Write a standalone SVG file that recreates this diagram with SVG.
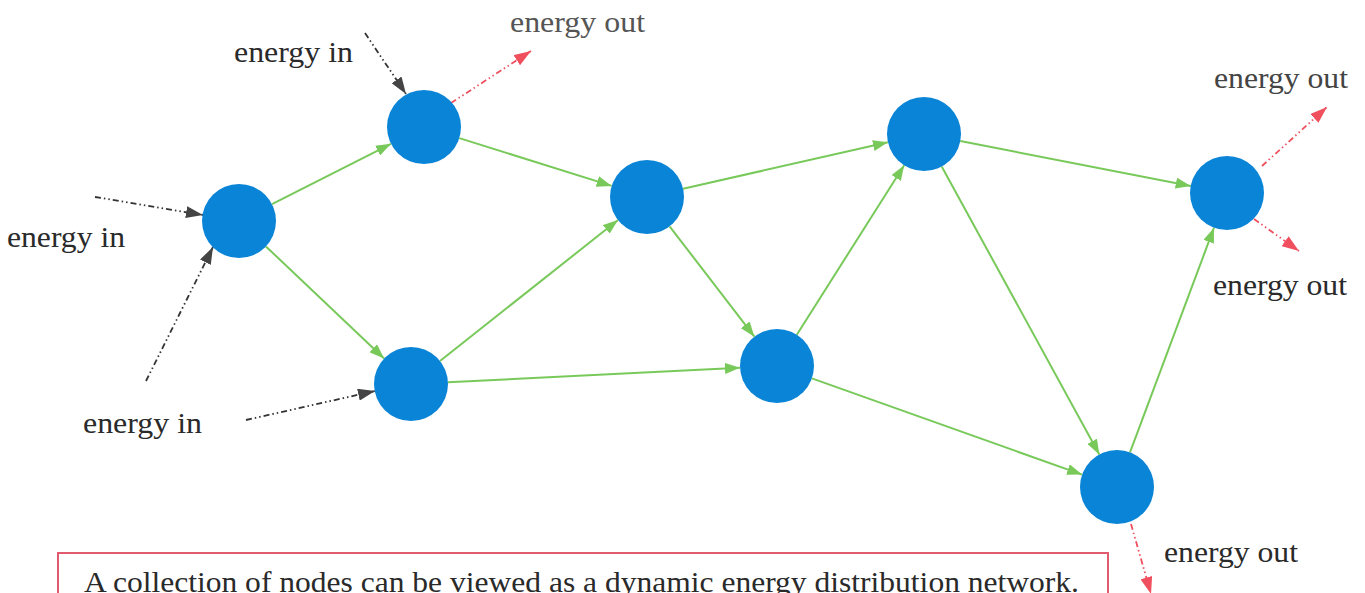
<svg xmlns="http://www.w3.org/2000/svg" width="1365" height="593" viewBox="0 0 1365 593">
<style>
.node{fill:#0A84D6}
.edge{stroke:#78C95A;stroke-width:2;fill:none;marker-end:url(#ag)}
.in{stroke:#333;stroke-width:1.8;fill:none;stroke-dasharray:6 3 1.5 3 1.5 3;marker-end:url(#ak)}
.out{stroke:#F0505E;stroke-width:1.8;fill:none;stroke-dasharray:6 3 1.5 3 1.5 3;marker-end:url(#ar)}
.lbl{font-family:"Liberation Serif","Times New Roman",serif;font-size:30px;fill:#2a2a2a}
</style>
<defs>
<marker id="ag" markerUnits="userSpaceOnUse" markerWidth="16" markerHeight="11" refX="15" refY="5.5" orient="auto"><path d="M0,0 L15,5.5 L0,11 z" fill="#78C95A"/></marker>
<marker id="ak" markerUnits="userSpaceOnUse" markerWidth="18" markerHeight="12" refX="17" refY="6" orient="auto"><path d="M0,0 L17,6 L0,12 z" fill="#444"/></marker>
<marker id="ar" markerUnits="userSpaceOnUse" markerWidth="18" markerHeight="12" refX="17" refY="6" orient="auto"><path d="M0,0 L17,6 L0,12 z" fill="#F0505E"/></marker>
</defs>
<rect x="0" y="0" width="1365" height="593" fill="#fff"/>
<g id="connectors">
<line class="edge" x1="272" y1="204.2" x2="391" y2="143.8"/>
<line class="edge" x1="459.3" y1="138.1" x2="611.7" y2="185.9"/>
<line class="edge" x1="265.9" y1="246.4" x2="384.1" y2="358.6"/>
<line class="edge" x1="440" y1="361" x2="618" y2="220"/>
<line class="edge" x1="448" y1="382.2" x2="740" y2="367.8"/>
<line class="edge" x1="683.1" y1="188.8" x2="887.9" y2="142.2"/>
<line class="edge" x1="669.6" y1="226.3" x2="754.4" y2="336.7"/>
<line class="edge" x1="796.8" y1="334.7" x2="904.2" y2="165.3"/>
<line class="edge" x1="960.3" y1="141.1" x2="1190.7" y2="185.9"/>
<line class="edge" x1="941.7" y1="166.5" x2="1099.3" y2="454.5"/>
<line class="edge" x1="811.9" y1="378.4" x2="1082.1" y2="474.6"/>
<line class="edge" x1="1130" y1="452.3" x2="1214" y2="227.7"/>
<line class="in" x1="95" y1="197" x2="203" y2="215"/>
<line class="in" x1="146" y1="381" x2="213" y2="247"/>
<line class="in" x1="365" y1="33" x2="406" y2="94"/>
<line class="in" x1="246" y1="420" x2="375" y2="391"/>
<line class="out" x1="451" y1="103" x2="531" y2="51"/>
<line class="out" x1="1262" y1="166" x2="1327" y2="107"/>
<line class="out" x1="1254" y1="219" x2="1299" y2="251"/>
<line class="out" x1="1131" y1="524" x2="1151" y2="594"/>
</g>
<g id="n1"><circle class="node" cx="239" cy="221" r="37"/></g>
<g id="n2"><circle class="node" cx="424" cy="127" r="37"/></g>
<g id="n3"><circle class="node" cx="647" cy="197" r="37"/></g>
<g id="n4"><circle class="node" cx="924" cy="134" r="37"/></g>
<g id="n5"><circle class="node" cx="1227" cy="193" r="37"/></g>
<g id="n6"><circle class="node" cx="411" cy="384" r="37"/></g>
<g id="n7"><circle class="node" cx="777" cy="366" r="37"/></g>
<g id="n8"><circle class="node" cx="1117" cy="487" r="37"/></g>
<g id="labels">
<text class="lbl" x="234" y="62" textLength="119" lengthAdjust="spacingAndGlyphs">energy in</text>
<text class="lbl" x="7" y="247" textLength="118" lengthAdjust="spacingAndGlyphs">energy in</text>
<text class="lbl" x="83" y="433" textLength="119" lengthAdjust="spacingAndGlyphs">energy in</text>
<text class="lbl" x="510" y="32" textLength="135" lengthAdjust="spacingAndGlyphs" style="fill:#555">energy out</text>
<text class="lbl" x="1214" y="88" textLength="134" lengthAdjust="spacingAndGlyphs" style="fill:#444">energy out</text>
<text class="lbl" x="1213" y="295" textLength="134" lengthAdjust="spacingAndGlyphs">energy out</text>
<text class="lbl" x="1164" y="562" textLength="134" lengthAdjust="spacingAndGlyphs">energy out</text>
</g>
<g id="caption">
<rect x="58" y="553" width="1050" height="60" fill="none" stroke="#E25A6E" stroke-width="2"/>
<text class="lbl" x="84" y="592" textLength="995" lengthAdjust="spacingAndGlyphs">A collection of nodes can be viewed as a dynamic energy distribution network.</text>
</g>
</svg>
